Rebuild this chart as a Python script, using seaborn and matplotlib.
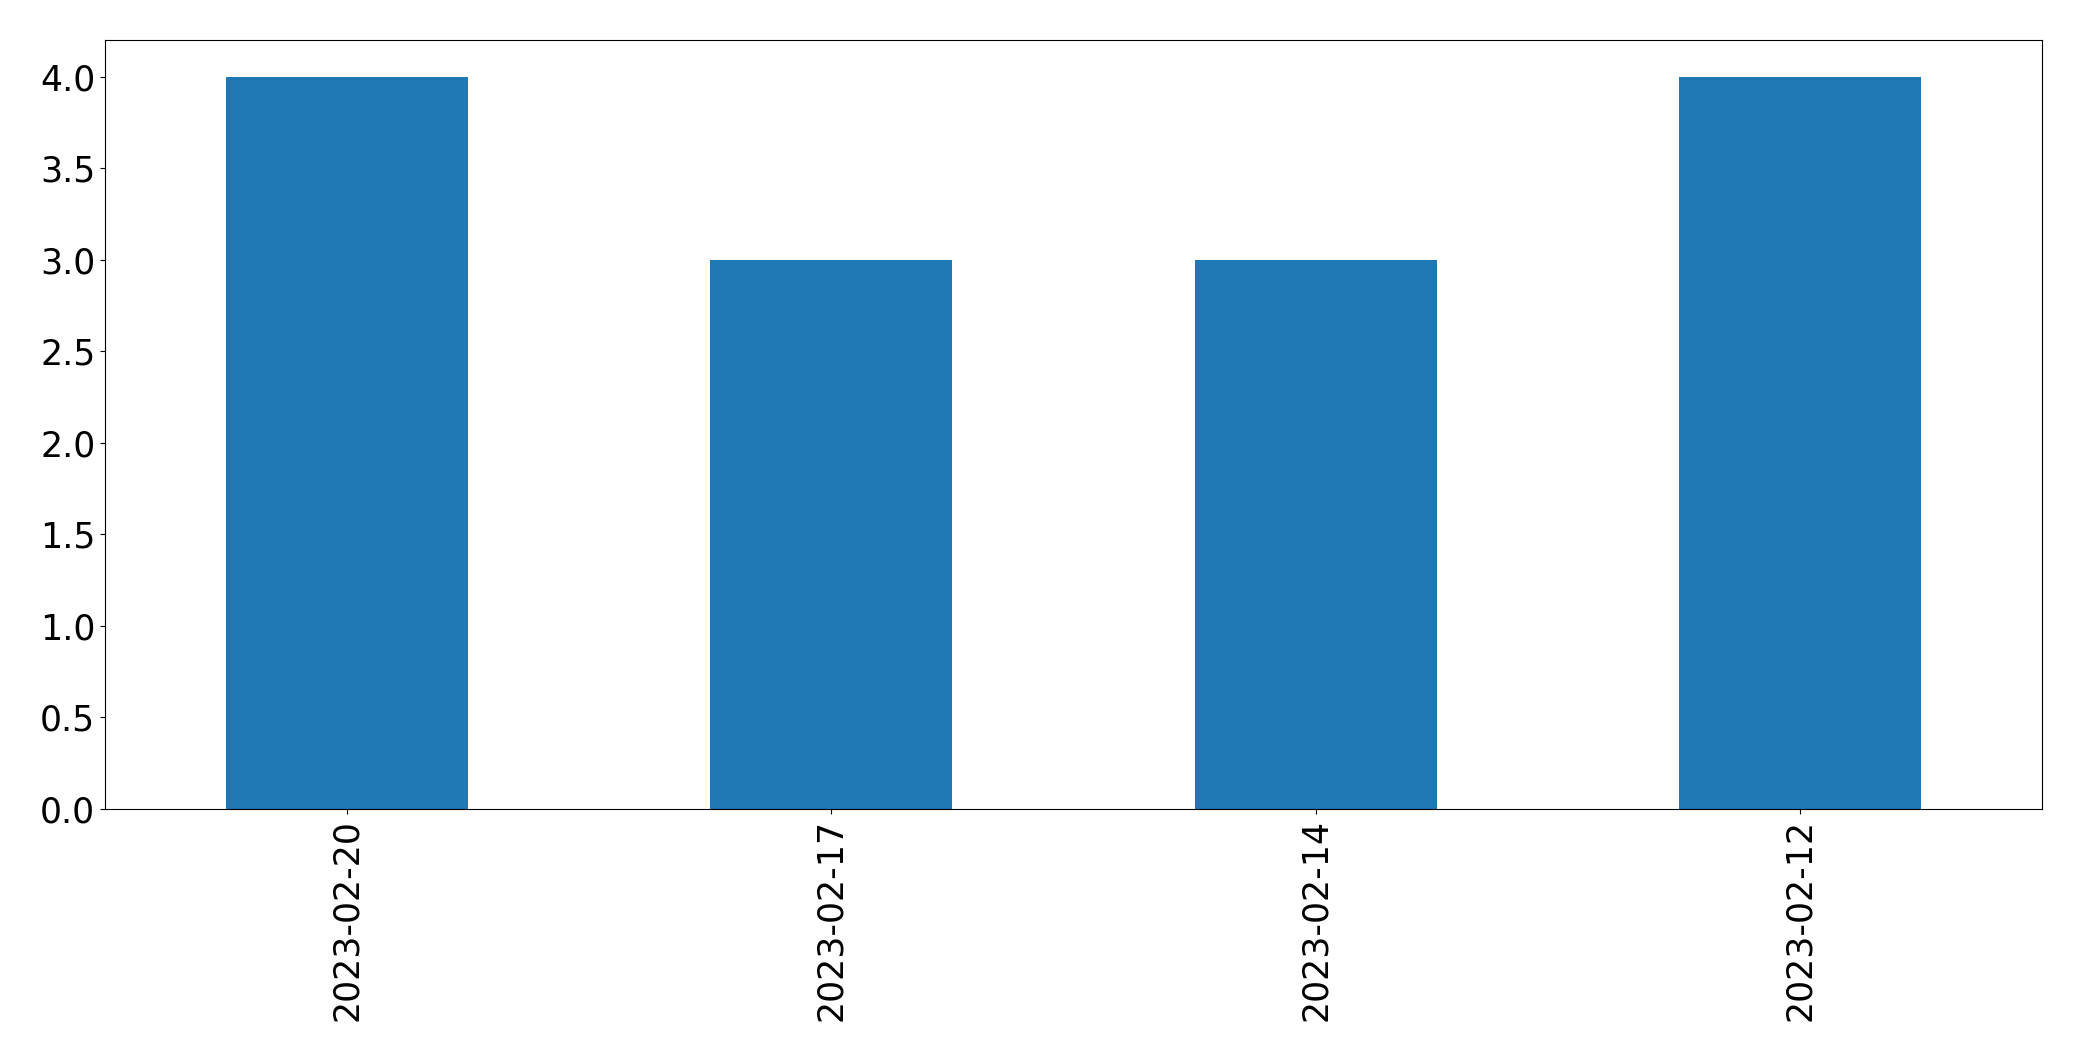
import pandas as pd
import seaborn as sns
import matplotlib
matplotlib.use("Agg")
import matplotlib.pyplot as plt

#%% Data
dates = ["2023-02-20", "2023-02-17", "2023-02-14", "2023-02-12"]
counts = [4, 3, 3, 4]

df = pd.DataFrame({"date": dates, "count": counts})

#%% Plot
fig = plt.figure(figsize=(20.82, 10.61), dpi=100)
ax = fig.add_axes([105 / 2082, 1 - 809 / 1061, (2042 - 105) / 2082, (809 - 40) / 1061])

sns.barplot(data=df, x="date", y="count", order=dates, color="#1f77b4",
            saturation=1, width=0.5, ax=ax)

ax.set_xlabel("")
ax.set_ylabel("")
ax.set_xlim(-0.5, len(dates) - 0.5)
ax.set_ylim(0, 4.2)
ax.set_yticks([0, 0.5, 1, 1.5, 2, 2.5, 3, 3.5, 4])
ax.set_yticklabels([f"{v:.1f}" for v in [0, 0.5, 1, 1.5, 2, 2.5, 3, 3.5, 4]])
ax.tick_params(axis="both", labelsize=25)
for s in ax.spines.values():
    s.set_color("black")
plt.setp(ax.get_xticklabels(), rotation=90)

fig.savefig("out.png", dpi=100)
